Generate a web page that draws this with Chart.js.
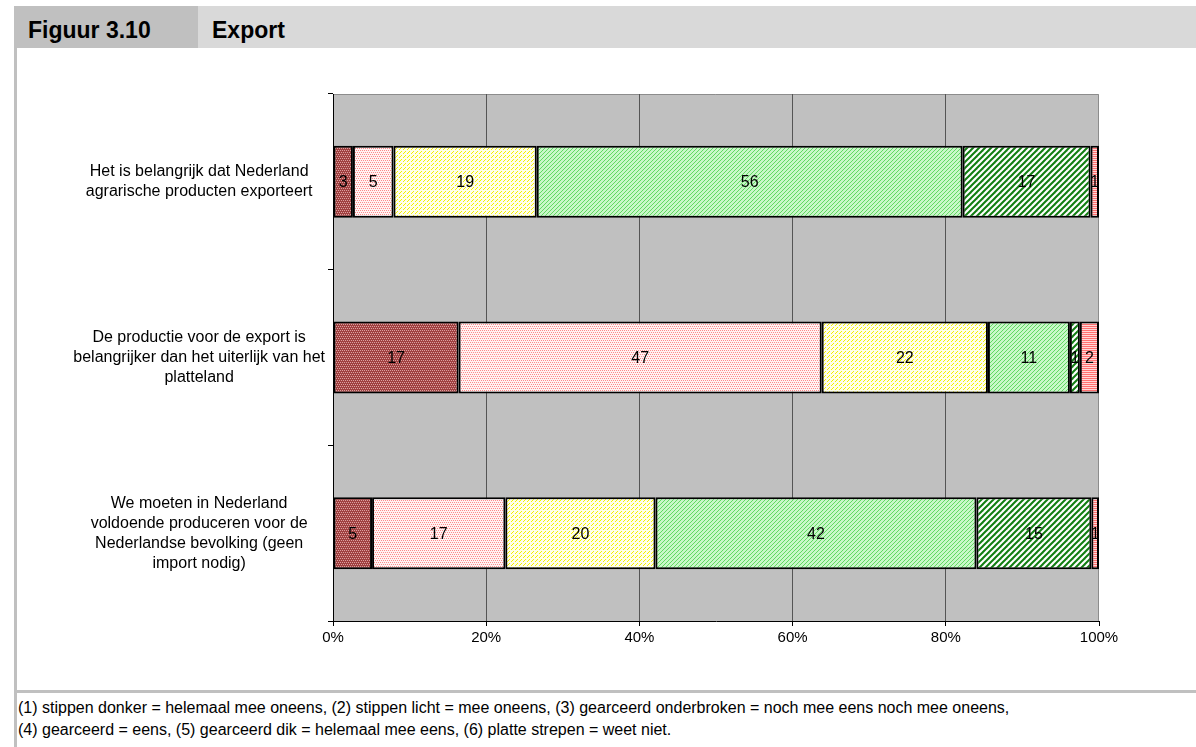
<!DOCTYPE html>
<html>
<head>
<meta charset="utf-8">
<script src="https://cdn.jsdelivr.net/npm/chart.js@4/dist/chart.umd.min.js"></script>
<style>
  body { margin: 0; width: 1196px; height: 747px; background: #fff; position: relative; overflow: hidden;
         font-family: "Liberation Sans", Arial, sans-serif; color: #000; }
  #leftBorder { position: absolute; left: 14px; top: 6px; width: 3px; height: 741px; background: #c0c0c0; }
  #headL { position: absolute; left: 14px; top: 6px; width: 184px; height: 42px; background: #c0c0c0; }
  #headR { position: absolute; left: 198px; top: 6px; right: 0; height: 42px; background: #d9d9d9; }
  .head { position: absolute; top: 19px; font-weight: bold; font-size: 23px; line-height: 23px; }
  #footLine { position: absolute; left: 14px; top: 690px; right: 0; height: 3px; background: #c0c0c0; }
  #foot { position: absolute; left: 18px; top: 697px; font-size: 16px; line-height: 22px; white-space: nowrap; }
  #wrap { position: absolute; left: 17px; top: 48px; width: 1179px; height: 642px; }
</style>
</head>
<body>
<div id="leftBorder"></div>
<div id="headL"></div>
<div id="headR"></div>
<div class="head" style="left:28px">Figuur 3.10</div>
<div class="head" style="left:212px">Export</div>
<div id="wrap"><canvas id="chart"></canvas></div>
<div id="footLine"></div>
<div id="foot">(1) stippen donker = helemaal mee oneens, (2) stippen licht = mee oneens, (3) gearceerd onderbroken = noch mee eens noch mee oneens,<br>(4) gearceerd = eens, (5) gearceerd dik = helemaal mee eens, (6) platte strepen = weet niet.</div>
<script>
const categories = [
  ["Het is belangrijk dat Nederland", "agrarische producten exporteert"],
  ["De productie voor de export is", "belangrijker dan het uiterlijk van het", "platteland"],
  ["We moeten in Nederland", "voldoende produceren voor de", "Nederlandse bevolking (geen", "import nodig)"]
];

const seriesNames = ["helemaal mee oneens", "mee oneens", "noch mee eens noch mee oneens",
  "eens", "helemaal mee eens", "weet niet"];

// bar lengths as drawn (percent of row)
const helemaalOneens = [2.6, 16.4, 5.1];
const meeOneens = [5.3, 47.4, 17.4];
const neutraal = [18.7, 21.7, 19.6];
const eens = [55.6, 10.7, 41.9];
const helemaalEens = [16.7, 1.3, 15.0];
const weetNiet = [1.1, 2.5, 1.0];

// numbers printed in the bars
const printedHelemaalOneens = [3, 17, 5];
const printedMeeOneens = [5, 47, 17];
const printedNeutraal = [19, 22, 20];
const printedEens = [56, 11, 42];
const printedHelemaalEens = [17, 1, 15];
const printedWeetNiet = [1, 2, 1];

const xTicks = [0, 20, 40, 60, 80, 100];

function makePattern(size, bg, draw) {
  const c = document.createElement("canvas");
  c.width = size;
  c.height = size;
  const g = c.getContext("2d");
  g.fillStyle = bg;
  g.fillRect(0, 0, size, size);
  draw(g, size);
  return g.createPattern(c, "repeat");
}

function pixels(g, color, list) {
  g.fillStyle = color;
  list.forEach(([x, y]) => g.fillRect(x, y, 1, 1));
}

const patterns = [
  makePattern(4, "#a04040", g => pixels(g, "#dca0a0", [[0, 0], [2, 0], [1, 2], [3, 2]])),
  makePattern(4, "#fff4f4", g => pixels(g, "#ff8a8a", [[0, 0], [2, 0], [1, 2], [3, 2]])),
  makePattern(4, "#ffffea", g => pixels(g, "#f4f000", [[3, 0], [2, 1], [0, 3]])),
  makePattern(4, "#c8f8c8", g => pixels(g, "#62d862", [[3, 0], [2, 1], [1, 2], [0, 3]])),
  makePattern(6, "#ffffff", (g, s) => {
    g.strokeStyle = "#107e10";
    g.lineWidth = 2;
    [-s, 0, s].forEach(o => {
      g.beginPath();
      g.moveTo(o - 1, s + 1);
      g.lineTo(o + s + 1, -1);
      g.stroke();
    });
  }),
  makePattern(2, "#ff7070", g => { g.fillStyle = "#ffd6d6"; g.fillRect(0, 1, 2, 1); })
];

const values = [helemaalOneens, meeOneens, neutraal, eens, helemaalEens, weetNiet];
const printed = [printedHelemaalOneens, printedMeeOneens, printedNeutraal, printedEens,
  printedHelemaalEens, printedWeetNiet];

const plotBackground = {
  id: "plotBackground",
  beforeDraw(chart) {
    const { ctx, chartArea: a } = chart;
    ctx.save();
    ctx.fillStyle = "#c0c0c0";
    ctx.fillRect(a.left, a.top, a.right - a.left, a.bottom - a.top);
    ctx.strokeStyle = "#8c8c8c";
    ctx.lineWidth = 1;
    ctx.beginPath();
    ctx.moveTo(a.left, a.top + 0.5);
    ctx.lineTo(a.right - 0.5, a.top + 0.5);
    ctx.lineTo(a.right - 0.5, a.bottom);
    ctx.stroke();
    ctx.restore();
  }
};

const segmentLabels = {
  id: "segmentLabels",
  afterDatasetsDraw(chart) {
    const { ctx, chartArea: a } = chart;
    ctx.save();
    ctx.beginPath();
    ctx.rect(a.left, a.top, a.right - a.left, a.bottom - a.top);
    ctx.clip();
    ctx.font = '16px "Liberation Sans", Arial, sans-serif';
    ctx.fillStyle = "#000";
    ctx.textAlign = "center";
    ctx.textBaseline = "middle";
    chart.data.datasets.forEach((ds, i) => {
      chart.getDatasetMeta(i).data.forEach((bar, j) => {
        ctx.fillText(String(ds.printed[j]), (bar.x + bar.base) / 2, bar.y + 1);
      });
    });
    ctx.restore();
  }
};

new Chart(document.querySelector("#chart"), {
  type: "bar",
  data: {
    labels: categories,
    datasets: seriesNames.map((name, i) => ({
      label: name,
      data: values[i],
      printed: printed[i],
      backgroundColor: patterns[i],
      borderColor: "#000",
      borderWidth: 2,
      borderSkipped: false,
      categoryPercentage: 1,
      barPercentage: 0.41
    }))
  },
  options: {
    indexAxis: "y",
    responsive: true,
    maintainAspectRatio: false,
    animation: false,
    layout: { padding: { left: 0, right: 97, top: 46, bottom: 39 } },
    plugins: { legend: { display: false }, tooltip: { enabled: false } },
    scales: {
      x: {
        stacked: true,
        min: 0,
        max: 100,
        afterBuildTicks: scale => { scale.ticks = xTicks.map(v => ({ value: v })); },
        afterFit: scale => { scale.height = 30; },
        ticks: {
          callback: v => v + "%",
          color: "#000",
          font: { family: '"Liberation Sans", Arial, sans-serif', size: 15 },
          padding: 3,
          maxRotation: 0
        },
        grid: {
          color: c => (c.tick && (c.tick.value === 0 || c.tick.value === 100)) ? "rgba(0,0,0,0)" : "#555",
          lineWidth: 1,
          tickColor: "#000",
          tickLength: 5
        },
        border: { display: true, color: "#000", width: 1 }
      },
      y: {
        stacked: true,
        offset: true,
        afterFit: scale => { scale.width = 316; },
        ticks: {
          color: "#000",
          font: { family: '"Liberation Sans", Arial, sans-serif', size: 16, lineHeight: 1.25 },
          crossAlign: "center",
          padding: 3
        },
        grid: {
          offset: true,
          drawOnChartArea: false,
          tickColor: "#000",
          tickLength: 5
        },
        border: { display: true, color: "#000", width: 1 }
      }
    }
  },
  plugins: [plotBackground, segmentLabels]
});
</script>
</body>
</html>
